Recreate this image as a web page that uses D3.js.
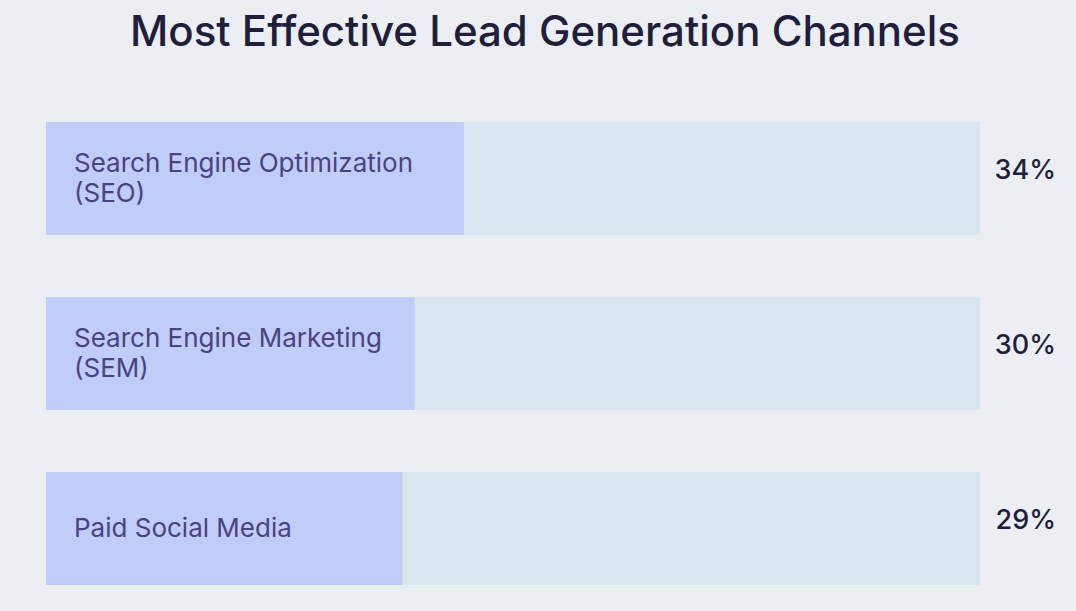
<!DOCTYPE html>
<html>
<head>
<meta charset="utf-8">
<script src="https://cdn.jsdelivr.net/npm/d3@7"></script>
<style>
  html, body { margin: 0; padding: 0; background: #EBEFF3; }
  svg { display: block; font-family: Inter, "Noto Sans", sans-serif; }
</style>
</head>
<body>
<svg id="chart"></svg>
<script>
// data
var channels = [
  ['Search Engine Optimization', '(SEO)'],
  ['Search Engine Marketing', '(SEM)'],
  ['Paid Social Media']
];
var shares = [34, 30, 29];
var title = 'Most Effective Lead Generation Channels';

var config = { width: 1076, height: 611 };

var svg = d3.select('#chart')
  .attr('width', config.width)
  .attr('height', config.height);

svg.append('rect')
  .attr('width', config.width)
  .attr('height', config.height)
  .attr('fill', '#EBEFF3');

svg.append('text')
  .attr('x', 545)
  .attr('y', 46)
  .attr('text-anchor', 'middle')
  .attr('font-size', 42)
  .attr('font-weight', 500)
  .attr('fill', '#221D3A')
  .text(title);

// scales
var x = d3.scaleLinear().domain([0, 76]).range([46, 980]);
var y = d3.scaleBand()
  .domain(d3.range(channels.length))
  .range([122, 585])
  .paddingInner(0.355);

var rows = svg.selectAll('g.row')
  .data(shares)
  .enter()
  .append('g')
  .attr('class', 'row')
  .attr('transform', function(d, i) { return 'translate(0,' + y(i) + ')'; });

// track
rows.append('rect')
  .attr('x', x(0))
  .attr('width', x.range()[1] - x(0))
  .attr('height', y.bandwidth())
  .attr('fill', '#D9E6F0');

// filled share
rows.append('rect')
  .attr('x', x(0))
  .attr('width', function(d) { return x(d) - x(0); })
  .attr('height', y.bandwidth())
  .attr('fill', '#BFCDF8');

// category labels, one or two lines
rows.each(function(d, i) {
  var lines = channels[i];
  var lh = 30;
  var first = y.bandwidth() / 2 + 8.5 - (lines.length - 1) * lh / 2;
  var t = d3.select(this).append('text')
    .attr('font-size', 26)
    .attr('fill', '#4B4280');
  lines.forEach(function(line, k) {
    t.append('tspan')
      .attr('x', 74)
      .attr('y', first + k * lh)
      .text(line);
  });
});

// value labels
rows.append('text')
  .attr('x', 1056)
  .attr('y', y.bandwidth() / 2 + 0.5)
  .attr('text-anchor', 'end')
  .attr('font-size', 27)
  .attr('font-weight', 500)
  .attr('fill', '#221D3A')
  .text(function(d) { return d + '%'; });
</script>
</body>
</html>
